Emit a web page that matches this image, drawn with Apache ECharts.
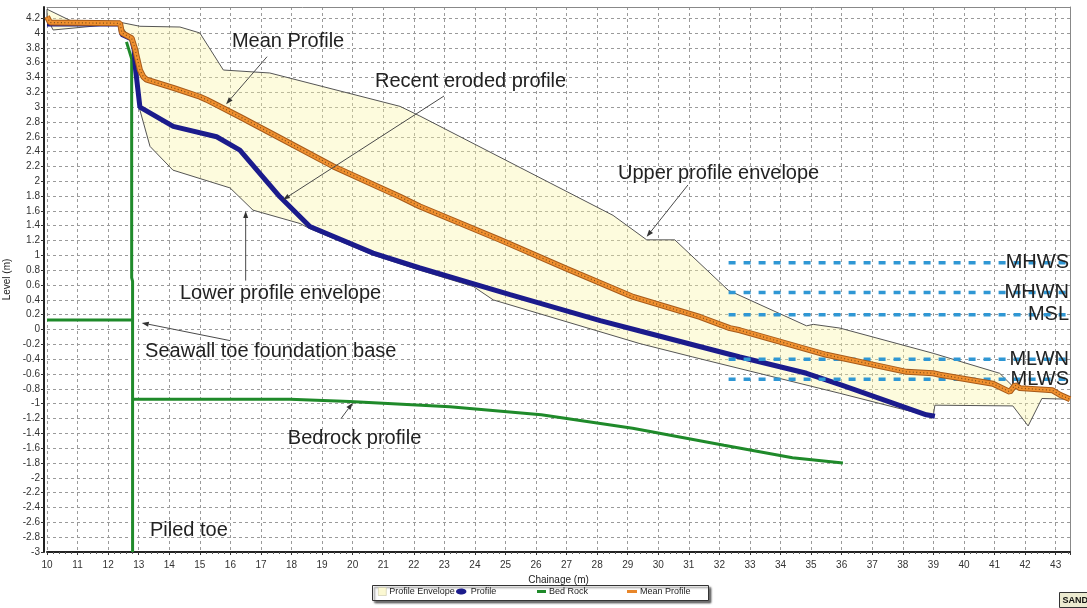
<!DOCTYPE html>
<html>
<head>
<meta charset="utf-8">
<script src="https://cdn.jsdelivr.net/npm/echarts/dist/echarts.min.js"></script>
<style>
  html, body { margin: 0; padding: 0; background: #fff; }
  #chart { width: 1087px; height: 608px; }
</style>
</head>
<body>
<div id="chart"></div>
<script>
// ---- Beach profile data: [chainage (m), level (m)] ----
const upperEnvelope = [
  [10.0, 4.32], [10.8, 4.16], [12.44, 4.14], [13.04, 4.09], [14.35, 4.08], [15.0, 4.0],
  [15.77, 3.5], [17.29, 3.46], [21.55, 3.01], [22.2, 2.88], [28.52, 1.54], [29.62, 1.21],
  [30.54, 1.21], [32.29, 0.53], [34.85, 0.05], [35.07, 0.07], [35.94, 0.02], [38.99, -0.32],
  [41.17, -0.59], [41.61, -0.77], [41.83, -0.79], [42.9, -0.82], [43.14, -0.88], [43.47, -0.94]
];
const lowerEnvelope = [
  [10.0, 4.2], [10.2, 4.04], [11.73, 4.1], [12.4, 4.11], [12.6, 4.0], [12.8, 3.9],
  [12.95, 3.5], [13.04, 2.96], [13.37, 2.47], [14.12, 2.15], [15.99, 1.91], [16.74, 1.61],
  [18.28, 1.43], [18.6, 1.36], [20.7, 1.0], [22.2, 0.8], [23.95, 0.58], [24.6, 0.4],
  [29.4, -0.19], [31.13, -0.37], [35.94, -0.86], [38.99, -1.18], [39.05, -1.02],
  [41.6, -1.03], [42.1, -1.3], [42.55, -0.93], [43.47, -0.94]
];
const recentProfile = [
  [10.0, 4.12], [12.39, 4.12], [12.45, 3.98], [12.77, 3.92], [12.85, 3.78], [12.9, 3.5],
  [13.04, 3.0], [14.13, 2.74], [15.55, 2.6], [16.31, 2.42], [17.62, 1.79], [18.6, 1.39],
  [20.67, 1.03], [22.2, 0.83], [25.15, 0.47], [28.1, 0.12], [29.4, -0.02], [32.67, -0.37],
  [34.85, -0.59], [36.0, -0.75], [38.77, -1.15], [39.05, -1.17]
];
const meanProfile = [
  [10.0, 4.22], [10.1, 4.14], [12.39, 4.13], [12.45, 4.0], [12.77, 3.93], [12.87, 3.8],
  [13.04, 3.5], [13.15, 3.41], [13.26, 3.37], [14.13, 3.26], [15.0, 3.14], [15.22, 3.1],
  [16.31, 2.87], [17.5, 2.61], [19.37, 2.2], [21.55, 1.79], [22.2, 1.66], [24.82, 1.21],
  [27.0, 0.82], [29.18, 0.44], [31.36, 0.17], [32.34, 0.02], [32.67, -0.01], [35.5, -0.34],
  [38.12, -0.57], [38.99, -0.59], [39.21, -0.61], [40.95, -0.73], [41.5, -0.84], [41.67, -0.75],
  [41.83, -0.79], [42.9, -0.82], [43.14, -0.88], [43.47, -0.94]
];
const bedRock = [
  [12.8, -0.94], [17.95, -0.94], [19.9, -0.97], [23.18, -1.04], [26.17, -1.15],
  [29.16, -1.33], [32.15, -1.56], [34.39, -1.73], [36.04, -1.8]
];
const seawallPile = [[12.6, 3.88], [12.77, 3.65], [12.77, 0.7], [12.8, 0.65], [12.8, -3.0]];
const seawallToe = [[10.0, 0.13], [12.77, 0.13]];

// Tidal levels (m)
const tideNames = ['MHWS', 'MHWN', 'MSL', 'MLWN', 'MLWS'];
const tideLevels = [0.9, 0.5, 0.2, -0.4, -0.67];
const tideStartChainage = 32.3;

// Axis extents
const xMin = 10, xMax = 43.47, xStep = 1;
const yMin = -3, yMax = 4.35, yStep = 0.2;

// Legend entries
const legendNames = ['Profile Envelope', 'Profile', 'Bed Rock', 'Mean Profile'];

// Callouts: text anchor and leader arrow (chainage, level)
const callouts = [
  { text: 'Mean Profile', at: [16.05, 3.88], from: [17.2, 3.68], to: [15.86, 3.04] },
  { text: 'Recent eroded profile', at: [20.73, 3.34], from: [22.99, 3.15], to: [17.72, 1.75] },
  { text: 'Upper profile envelope', at: [28.68, 2.1], from: [30.97, 1.95], to: [29.62, 1.25] },
  { text: 'Lower profile envelope', at: [14.35, 0.49], from: [16.5, 0.66], to: [16.5, 1.6] },
  { text: 'Seawall toe foundation base', at: [13.21, -0.29], from: [16.0, -0.15], to: [13.1, 0.09] },
  { text: 'Bedrock profile', at: [17.88, -1.47], from: [19.62, -1.2], to: [20.0, -0.99] },
  { text: 'Piled toe', at: [13.37, -2.71] }
];

const FONT = '"Liberation Sans", Arial, sans-serif';
const COLORS = {
  envelope: '#fbf8d2', profile: '#1b1b8c', bedrock: '#1f8a2a', mean: '#e8862a', tide: '#2f97d4'
};

// One legend block per entry so each sits in its own column of the framed key
const legendCols = [
  { left: 378, w: 8, h: 8, icon: 'rect', style: { color: COLORS.envelope, borderColor: '#c8c6a8', borderWidth: 0.6 } },
  { left: 456, w: 13, h: 6, icon: 'path://M0,4 C0,-1 13,-1 13,4 C13,9 0,9 0,4 Z', style: { color: COLORS.profile } },
  { left: 537, w: 9, h: 3, icon: 'rect', style: { color: COLORS.bedrock } },
  { left: 627, w: 10, h: 3, icon: 'rect', style: { color: COLORS.mean } }
];
const legends = legendNames.map((name, i) => ({
  left: legendCols[i].left, top: 587,
  padding: 0, itemGap: 0,
  itemWidth: legendCols[i].w, itemHeight: legendCols[i].h,
  selectedMode: false,
  textStyle: { fontSize: 9, color: '#222', fontFamily: FONT, padding: [0, 0, 0, -2] },
  data: [{ name: name, icon: legendCols[i].icon, itemStyle: legendCols[i].style }]
}));

const tideSeries = tideNames.map((name, i) => ({
  type: 'line',
  name: name,
  data: [[tideStartChainage, tideLevels[i]], [xMax, tideLevels[i]]],
  showSymbol: false,
  silent: true,
  z: 4,
  lineStyle: { color: COLORS.tide, width: 3.5, type: [7, 8] },
  endLabel: {
    show: true, formatter: '{a}', distance: 0, align: 'right', offset: [-1, 0],
    fontSize: 20, fontFamily: FONT, color: '#222'
  }
}));

const option = {
  animation: false,
  backgroundColor: '#fff',
  textStyle: { fontFamily: FONT },
  grid: { left: 47, right: 17, top: 7, bottom: 56, outerBoundsMode: 'none' },
  legend: legends,
  xAxis: [{
    type: 'value', min: xMin, max: xMax, interval: xStep,
    name: 'Chainage (m)', nameLocation: 'middle', nameGap: 17,
    nameTextStyle: { fontSize: 10, color: '#222' },
    axisLine: { show: true, onZero: false, lineStyle: { color: '#222', width: 2 } },
    axisTick: { show: true, length: 3, lineStyle: { color: '#333' } },
    minorTick: { show: true, splitNumber: 5, length: 2, lineStyle: { color: '#555' } },
    axisLabel: { fontSize: 10, color: '#333', margin: 8, showMaxLabel: false },
    splitLine: { show: true, lineStyle: { color: '#9a9a9a', width: 1, type: [3, 3] } }
  }, {
    type: 'value', min: xMin, max: xMax, position: 'top',
    axisLine: { show: true, onZero: false, lineStyle: { color: '#888', width: 1 } },
    axisTick: { show: false }, axisLabel: { show: false }, splitLine: { show: false }
  }],
  yAxis: [{
    type: 'value', min: yMin, max: yMax, interval: yStep, offset: 3,
    name: 'Level (m)', nameLocation: 'middle', nameGap: 15, nameRotate: 90,
    nameTextStyle: { fontSize: 10, color: '#222' },
    axisLine: { show: true, onZero: false, lineStyle: { color: '#222', width: 2 } },
    axisTick: { show: true, length: 3, lineStyle: { color: '#333' } },
    axisLabel: { fontSize: 10, color: '#333', margin: 4, showMaxLabel: false },
    splitLine: { show: true, lineStyle: { color: '#9a9a9a', width: 1, type: [3, 3] } }
  }, {
    type: 'value', min: yMin, max: yMax, position: 'right',
    axisLine: { show: true, onZero: false, lineStyle: { color: '#888', width: 1 } },
    axisTick: { show: false }, axisLabel: { show: false }, splitLine: { show: false }
  }],
  series: [
    {
      type: 'custom',
      name: 'Profile Envelope',
      coordinateSystem: 'cartesian2d',
      data: [[xMin, yMin]],
      silent: true,
      z: 1,
      itemStyle: { color: COLORS.envelope },
      renderItem: function (params, api) {
        const pts = upperEnvelope.map(p => api.coord(p))
          .concat(lowerEnvelope.slice().reverse().map(p => api.coord(p)));
        return {
          type: 'polygon',
          shape: { points: pts },
          style: { fill: 'rgba(250,243,160,0.36)', stroke: '#555', lineWidth: 1 }
        };
      }
    },
    {
      type: 'line', name: 'Bed Rock', data: bedRock, showSymbol: false, z: 2,
      lineStyle: { color: COLORS.bedrock, width: 3 }, itemStyle: { color: COLORS.bedrock }
    },
    {
      type: 'line', name: 'Seawall', data: seawallPile, showSymbol: false, z: 2,
      lineStyle: { color: COLORS.bedrock, width: 3 }
    },
    {
      type: 'line', name: 'Seawall toe', data: seawallToe, showSymbol: false, z: 2,
      lineStyle: { color: COLORS.bedrock, width: 3 }
    },
    {
      type: 'line', name: 'Profile', data: recentProfile, showSymbol: false, z: 3,
      lineStyle: { color: COLORS.profile, width: 5 }, itemStyle: { color: COLORS.profile }
    },
    ...tideSeries,
    {
      type: 'line', name: 'Mean Profile', data: meanProfile, showSymbol: false, z: 5,
      lineStyle: { color: '#a65a1a', width: 6 }, itemStyle: { color: COLORS.mean }
    },
    {
      type: 'line', name: 'Mean Profile', data: meanProfile, showSymbol: false, z: 6,
      lineStyle: { color: '#f0902f', width: 4 }
    },
    {
      type: 'line', name: 'Mean Profile', data: meanProfile, showSymbol: false, z: 7,
      lineStyle: { color: '#4a3010', width: 1.2, type: [1, 2.5], opacity: 0.7 }
    }
  ]
};

const chart = echarts.init(document.getElementById('chart'), null, { renderer: 'canvas' });
chart.setOption(option);

// Callout texts and leader arrows, placed through the chart's own coordinate system
const toPx = p => chart.convertToPixel({ xAxisIndex: 0, yAxisIndex: 0 }, p);
const graphics = [];
callouts.forEach(c => {
  const a = toPx(c.at);
  graphics.push({
    type: 'text', x: a[0], y: a[1], z: 20,
    style: { text: c.text, fontSize: 20, fontFamily: FONT, fill: '#222', verticalAlign: 'middle' }
  });
  if (c.from) {
    const f = toPx(c.from), t = toPx(c.to);
    const dx = t[0] - f[0], dy = t[1] - f[1];
    const len = Math.hypot(dx, dy), ux = dx / len, uy = dy / len;
    const hl = 7, hw = 2.5;
    const bx = t[0] - ux * hl, by = t[1] - uy * hl;
    graphics.push({
      type: 'line', z: 20,
      shape: { x1: f[0], y1: f[1], x2: bx, y2: by },
      style: { stroke: '#4a4a4a', lineWidth: 1 }
    });
    graphics.push({
      type: 'polygon', z: 20,
      shape: { points: [[t[0], t[1]], [bx - uy * hw, by + ux * hw], [bx + uy * hw, by - ux * hw]] },
      style: { fill: '#333' }
    });
  }
});
// Frame of the key
graphics.push({
  type: 'rect', left: 372, top: 585, z: 0, zlevel: 0,
  shape: { width: 336, height: 15 },
  style: {
    fill: '#fff', stroke: '#333', lineWidth: 1,
    shadowColor: 'rgba(0,0,0,0.55)', shadowBlur: 2, shadowOffsetX: 2, shadowOffsetY: 2
  }
});
// Software badge in the corner
graphics.push({
  type: 'group', left: 1059, top: 592, z: 20,
  children: [
    { type: 'rect', shape: { x: 0, y: 0, width: 34, height: 15 },
      style: { fill: '#ecead0', stroke: '#333', lineWidth: 1 } },
    { type: 'text', x: 3, y: 8,
      style: { text: 'SANDS', fontSize: 9, fontWeight: 'bold', fontFamily: FONT, fill: '#111', verticalAlign: 'middle' } }
  ]
});
chart.setOption({ graphic: graphics });
</script>
</body>
</html>
